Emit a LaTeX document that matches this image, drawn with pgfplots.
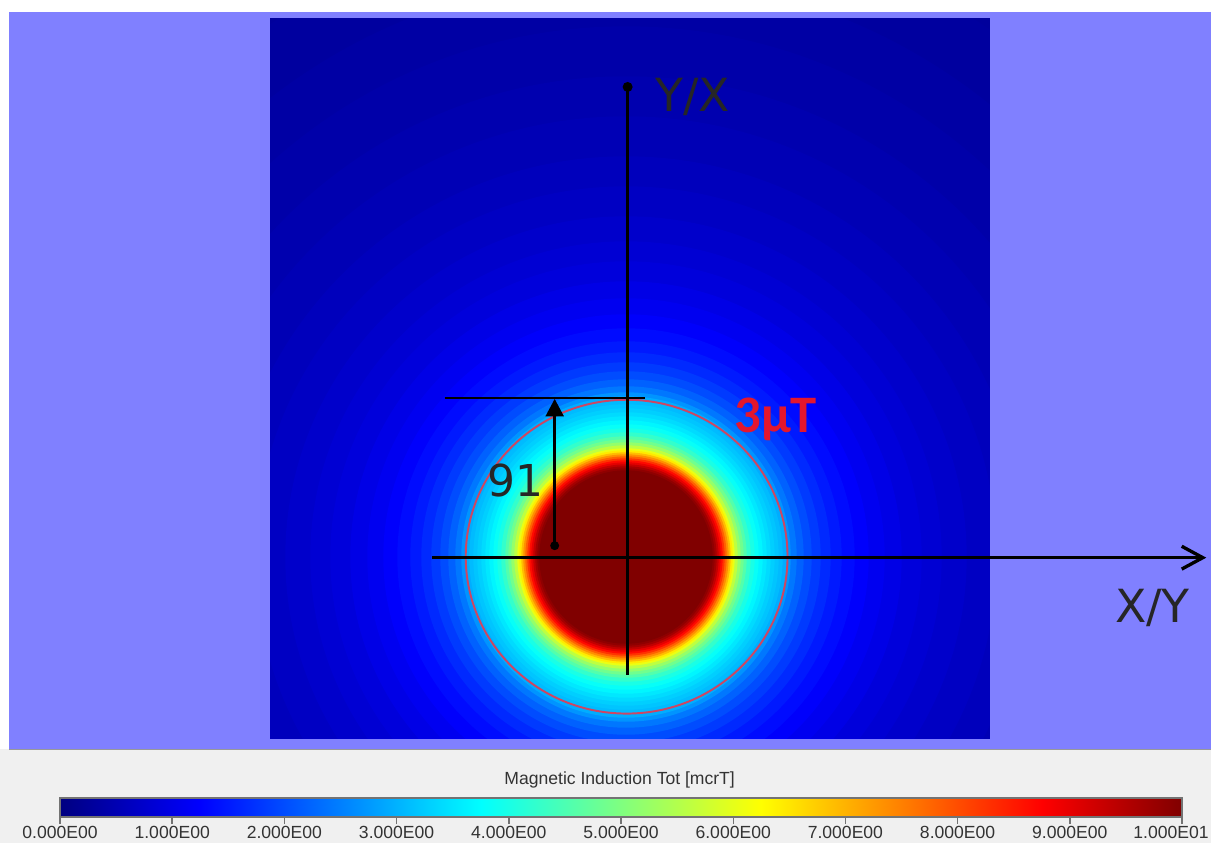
\documentclass[border=0pt]{standalone}
\usepackage{fontspec}
\setmainfont{DejaVu Sans}
\newfontfamily\calfont{Carlito}
\newfontfamily\uifont{Liberation Sans}
\usepackage{pgfplots}
\usepackage{pgfplotstable}
\pgfplotsset{compat=1.18}
\usetikzlibrary{arrows.meta}

\definecolor{pagebg}{RGB}{128,128,255}
\definecolor{panelgray}{RGB}{240,240,240}
\definecolor{contourred}{RGB}{205,70,100}
\definecolor{labelred}{RGB}{228,22,45}

% concentric rings of the total induction: centre (px), radius (px), value (mcrT)
\pgfplotstableread{
x y r v
626 557 700 0.28
626 557 640 0.31
626 557 580 0.35
626 557 530 0.40
626 557 480 0.46
626 557 440 0.52
626 557 400 0.59
626 557 370 0.66
626 557 340 0.74
626 557 315 0.82
626 557 295 0.90
626 557 275 1.00
626 557 258 1.10
626 557 242 1.22
626 557 228 1.36
626 557 215 1.50
626 557 204 1.65
626 557 194 1.82
626 557 185 2.00
626 557 177 2.20
626 557 170 2.42
626 557 164 2.70
626 557 160 2.95
626 557 156 3.08
626 557 152 3.18
626 557 148 3.28
626 557 144 3.40
626 557 140 3.52
626 557 136 3.66
626 557 132 3.82
626 557 128 4.00
626 557 124 4.25
626 557 120 4.55
626 557 117 4.85
626 557 114 5.20
626 557 111 5.60
626 557 108 6.05
626 557 106 6.45
626 557 104 6.90
626 557 102 7.35
626 557 100 7.80
626 557 98 8.25
626 557 96 8.65
626 557 94 9.00
626 557 92 9.35
626 557 90 9.65
626 557 88 9.85
626 557 86 10.0
}\fieldrings

\begin{document}
\begin{tikzpicture}
% page background, 1 unit = 1 px
\begin{scope}[x=0.01cm,y=-0.01cm,yshift=8.43cm]
  \fill[white] (0,0) rectangle (1212,843);
  \fill[pagebg] (9,12) rectangle (1212,749);
  \fill[panelgray] (0,749) rectangle (1212,843);
  \draw[black!40, line width=0.3pt] (9,749.5) -- (1212,749.5);
\end{scope}

% field map
\begin{axis}[
  at={(2.70cm,1.05cm)}, anchor=south west,
  scale only axis, width=7.20cm, height=7.20cm,
  xmin=270, xmax=990, ymin=18, ymax=738, y dir=reverse,
  hide axis, clip marker paths=true,
  colormap/jet, point meta min=0, point meta max=10,
]
\addplot[scatter, only marks, mark=*,
  point meta=\thisrow{v},
  scatter/use mapped color={draw=mapped color, fill=mapped color},
  visualization depends on={0.28453*\thisrow{r} \as \rad},
  scatter/@pre marker code/.append style={/tikz/mark size=\rad},
] table[x=x, y=y] {\fieldrings};
\end{axis}

% colour scale
\begin{axis}[
  at={(0.60cm,0.26cm)}, anchor=south west,
  scale only axis, width=11.22cm, height=0.19cm,
  xmin=0, xmax=10, ymin=0, ymax=1, zmin=-1, zmax=1,
  view={0}{90}, hide axis,
  colormap/jet, point meta min=0, point meta max=10,
]
\addplot3[surf, shader=interp, point meta=x, mesh/rows=2, mesh/cols=6] coordinates {
  (0,0,0) (1.25,0,0) (3.75,0,0) (6.25,0,0) (8.75,0,0) (10,0,0)
  (0,1,0) (1.25,1,0) (3.75,1,0) (6.25,1,0) (8.75,1,0) (10,1,0)
};
\end{axis}
\begin{axis}[
  at={(0.60cm,0.26cm)}, anchor=south west,
  scale only axis, width=11.22cm, height=0.19cm,
  xmin=0, xmax=10, ymin=0, ymax=1,
  ytick=\empty, xtick={0,1,...,10},
  xticklabels={0.000E00,1.000E00,2.000E00,3.000E00,4.000E00,5.000E00,6.000E00,7.000E00,8.000E00,9.000E00,\hspace*{-0.22cm}1.000E01},
  xtick pos=left, tick align=outside, major tick length=0.07cm,
  axis line style={black!55, line width=0.4pt},
  tick style={black!55, line width=0.4pt},
  xticklabel style={font=\uifont\fontsize{5}{6}\selectfont, text=black!80, inner sep=0.5pt},
]
\end{axis}

% annotations
\begin{scope}[x=0.01cm,y=-0.01cm,yshift=8.43cm]
  \node[font=\uifont\fontsize{5}{6}\selectfont, text=black!80] at (620,780) {Magnetic Induction Tot [mcrT]};
  \draw[contourred, line width=0.55pt] (627,557) ellipse (161 and 157);
  \draw[black, line width=0.95pt] (628,87) -- (628,675);
  \fill[black] (628,87) circle (5);
  \draw[black, line width=0.95pt, -{Straight Barb[length=6pt, width=6.5pt, line width=0.95pt]}] (432,558) -- (1207,558);
  \draw[black, line width=0.6pt] (445,398) -- (645,398);
  \draw[black, line width=0.95pt, -{Triangle[length=5pt, width=5pt]}] (555,546) -- (555,399);
  \fill[black] (555,546) circle (4.5);
  \node[anchor=base west, inner sep=0pt, font=\fontsize{13}{15}\selectfont, text=black!85] at (655,112) {Y/X};
  \node[anchor=base west, inner sep=0pt, font=\fontsize{13}{15}\selectfont, text=black!85] at (1115,623) {X/Y};
  \node[anchor=base west, inner sep=0pt, font=\fontsize{12.5}{15}\selectfont, text=black!85] at (487,497) {91};
  \node[anchor=base west, inner sep=0pt, font=\calfont\bfseries\fontsize{15}{18}\selectfont, text=labelred] at (734,433) {3µT};
\end{scope}

\pgfresetboundingbox
\path[use as bounding box] (0,0) rectangle (12.12cm,8.43cm);
\end{tikzpicture}
\end{document}
